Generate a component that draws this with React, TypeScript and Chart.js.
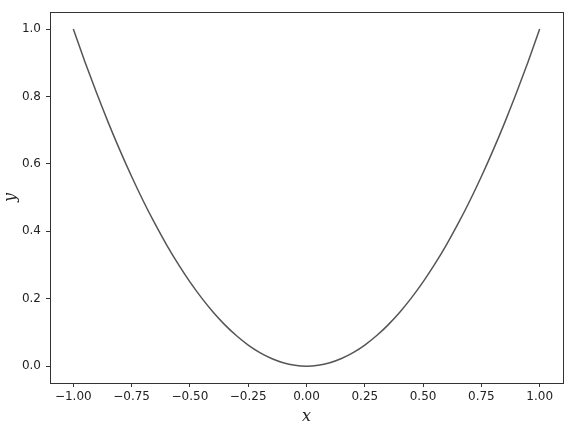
import React, { useEffect, useRef } from "react";
import { Chart, registerables } from "chart.js";

Chart.register(...registerables);

const xValues = [
  -1.0, -0.95, -0.9, -0.85, -0.8, -0.75, -0.7, -0.65, -0.6, -0.55, -0.5, -0.45, -0.4, -0.35, -0.3, -0.25, -0.2, -0.15, -0.1, -0.05,
  0.0, 0.05, 0.1, 0.15, 0.2, 0.25, 0.3, 0.35, 0.4, 0.45, 0.5, 0.55, 0.6, 0.65, 0.7, 0.75, 0.8, 0.85, 0.9, 0.95, 1.0,
];
const yValues = [
  1.0, 0.9025, 0.81, 0.7225, 0.64, 0.5625, 0.49, 0.4225, 0.36, 0.3025, 0.25, 0.2025, 0.16, 0.1225, 0.09, 0.0625, 0.04, 0.0225, 0.01, 0.0025,
  0.0, 0.0025, 0.01, 0.0225, 0.04, 0.0625, 0.09, 0.1225, 0.16, 0.2025, 0.25, 0.3025, 0.36, 0.4225, 0.49, 0.5625, 0.64, 0.7225, 0.81, 0.9025, 1.0,
];
const xTicks = [-1.0, -0.75, -0.5, -0.25, 0.0, 0.25, 0.5, 0.75, 1.0];
const yTicks = [0.0, 0.2, 0.4, 0.6, 0.8, 1.0];
const xLabel = "x";
const yLabel = "y";

const frame = {
  id: "frame",
  afterDraw(chart: any) {
    const { ctx, chartArea } = chart;
    ctx.save();
    ctx.strokeStyle = "#333";
    ctx.lineWidth = 1;
    ctx.strokeRect(
      Math.round(chartArea.left) + 0.5,
      Math.round(chartArea.top) + 0.5,
      Math.round(chartArea.right - chartArea.left),
      Math.round(chartArea.bottom - chartArea.top)
    );
    ctx.restore();
  },
};

export default function App() {
  const ref = useRef<HTMLCanvasElement | null>(null);
  useEffect(() => {
    document.body.style.margin = "0";
    const canvas = ref.current!;
    const points = xValues.map((x, i) => ({ x, y: yValues[i] }));
    const tickFont = { family: "DejaVu Sans", size: 12 };
    const chart = new Chart(canvas, {
      type: "scatter",
      data: {
        datasets: [
          {
            data: points,
            showLine: true,
            borderColor: "#555",
            borderWidth: 1.5,
            pointRadius: 0,
            cubicInterpolationMode: "monotone",
          } as any,
        ],
      },
      plugins: [frame],
      options: {
        animation: false,
        responsive: false,
        layout: { padding: { left: 0, top: 10, right: 15, bottom: 0 } },
        plugins: { legend: { display: false }, tooltip: { enabled: false } },
        scales: {
          x: {
            type: "linear",
            min: -1.1,
            max: 1.1,
            afterBuildTicks: (s: any) => {
              s.ticks = xTicks.map((v) => ({ value: v }));
            },
            afterFit: (s: any) => {
              s.height = 49;
            },
            grid: { drawOnChartArea: false, drawTicks: true, tickLength: 4, color: "#333" },
            border: { display: false },
            ticks: {
              autoSkip: false,
              maxRotation: 0,
              padding: 3,
              color: "#222",
              font: tickFont,
              callback: (v: any) => Number(v).toFixed(2).replace("-", "\u2212"),
            },
            title: {
              display: true,
              text: xLabel,
              color: "#222",
              font: { family: "DejaVu Serif", style: "italic", size: 16 },
              padding: { top: 0, bottom: 6 },
            },
          },
          y: {
            type: "linear",
            min: -0.05,
            max: 1.05,
            afterBuildTicks: (s: any) => {
              s.ticks = yTicks.map((v) => ({ value: v }));
            },
            afterFit: (s: any) => {
              s.width = 50;
            },
            grid: { drawOnChartArea: false, drawTicks: true, tickLength: 4, color: "#333" },
            border: { display: false },
            ticks: {
              autoSkip: false,
              padding: 5,
              color: "#222",
              font: tickFont,
              callback: (v: any) => Number(v).toFixed(1),
            },
            title: {
              display: true,
              text: yLabel,
              color: "#222",
              font: { family: "DejaVu Serif", style: "italic", size: 16 },
              padding: { top: 1, bottom: 0 },
            },
          },
        },
      },
    });
    return () => chart.destroy();
  }, []);
  return <canvas ref={ref} width={578} height={432} style={{ display: "block" }} />;
}
